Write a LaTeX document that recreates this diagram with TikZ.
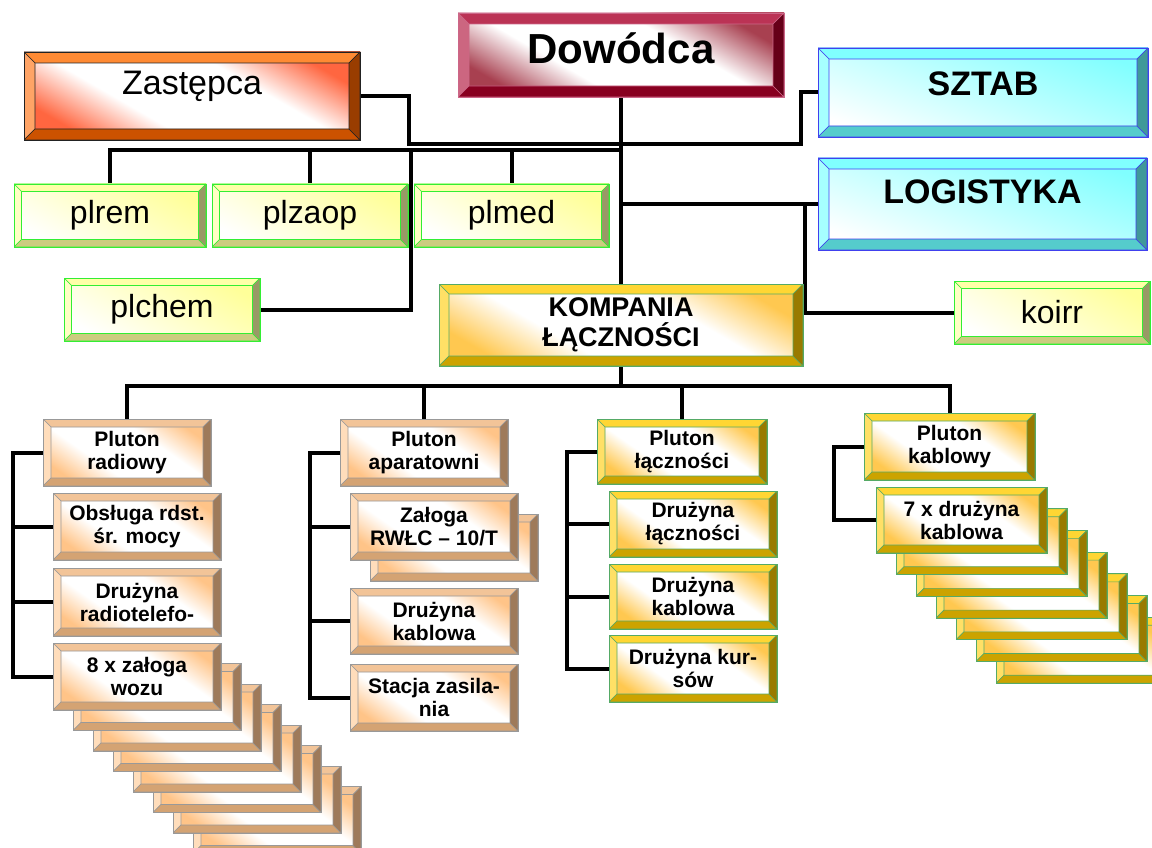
\documentclass[tikz,border=0pt]{standalone}
\usepackage{fontspec}
\setmainfont{Liberation Sans}
\usetikzlibrary{calc}
\pgfdeclarelayer{bg}
\pgfdeclarelayer{wires}
\pgfsetlayers{bg,wires,main}

\definecolor{zasT}{HTML}{FF8A33}
\definecolor{zasL}{HTML}{FFA466}
\definecolor{zasB}{HTML}{CC5200}
\definecolor{zasR}{HTML}{993D00}
\definecolor{zasF}{HTML}{FF6640}
\definecolor{zasO}{HTML}{222222}
\definecolor{dowT}{HTML}{BB3355}
\definecolor{dowL}{HTML}{CC6680}
\definecolor{dowB}{HTML}{880020}
\definecolor{dowR}{HTML}{660018}
\definecolor{dowF}{HTML}{A84050}
\definecolor{dowO}{HTML}{CC6688}
\definecolor{sztT}{HTML}{80FFFF}
\definecolor{sztL}{HTML}{A6FFFF}
\definecolor{sztB}{HTML}{55CCCC}
\definecolor{sztR}{HTML}{409999}
\definecolor{sztF}{HTML}{80FFFF}
\definecolor{sztO}{HTML}{4040EE}
\definecolor{grnT}{HTML}{FFFFA8}
\definecolor{grnL}{HTML}{FFFFC4}
\definecolor{grnB}{HTML}{CCCC80}
\definecolor{grnR}{HTML}{999966}
\definecolor{grnF}{HTML}{FFFF99}
\definecolor{grnO}{HTML}{33EE33}
\definecolor{gldT}{HTML}{FFD633}
\definecolor{gldL}{HTML}{FFE066}
\definecolor{gldB}{HTML}{CCA300}
\definecolor{gldR}{HTML}{997A00}
\definecolor{gldF}{HTML}{FFC850}
\definecolor{gldO}{HTML}{55AA66}
\definecolor{pchT}{HTML}{F2C498}
\definecolor{pchL}{HTML}{FFDDBB}
\definecolor{pchB}{HTML}{D4A373}
\definecolor{pchR}{HTML}{9E7A5A}
\definecolor{pchF}{HTML}{FFC488}
\definecolor{pchO}{HTML}{999999}

\colorlet{bvF}{white}
\pgfdeclareverticalshading[bvF]{bvdiag}{100bp}{color(0bp)=(bvF); color(25bp)=(bvF); color(39bp)=(white); color(61bp)=(white); color(75bp)=(bvF); color(100bp)=(bvF)}

\tikzset{
  box/.style={rectangle, inner sep=0pt, outer sep=0pt, line width=0.8pt},
  bvshade/.style 2 args={/utils/exec={\colorlet{bvF}{#1}}, shading=bvdiag, shading angle=#2},
  bvedge/.style={draw=#1O, line width=0.6pt, line join=round},
  bevel/.style n args={2}{path picture={
    \coordinate (o1) at (path picture bounding box.north west);
    \coordinate (o2) at (path picture bounding box.north east);
    \coordinate (o3) at (path picture bounding box.south east);
    \coordinate (o4) at (path picture bounding box.south west);
    \coordinate (i1) at ([shift={(#2,-#2)}]o1);
    \coordinate (i2) at ([shift={(-#2,-#2)}]o2);
    \coordinate (i3) at ([shift={(-#2,#2)}]o3);
    \coordinate (i4) at ([shift={(#2,#2)}]o4);
    \filldraw[bvedge=#1, fill=#1T] (o1)--(o2)--(i2)--(i1)--cycle;
    \filldraw[bvedge=#1, fill=#1L] (o1)--(i1)--(i4)--(o4)--cycle;
    \filldraw[bvedge=#1, fill=#1B] (o4)--(i4)--(i3)--(o3)--cycle;
    \filldraw[bvedge=#1, fill=#1R] (o3)--(i3)--(i2)--(o2)--cycle;
  }},
  zas/.style={box, draw=zasO, bvshade={zasF}{-30}, bevel={zas}{11pt}},
  dow/.style={box, draw=dowO, bvshade={dowF}{-30}, bevel={dow}{11pt}},
  szt/.style={box, draw=sztO, top color=sztF, bottom color=white, shading angle=-20, bevel={szt}{11pt}},
  grn/.style={box, draw=grnO, top color=grnF, bottom color=white, shading angle=-30, bevel={grn}{7.5pt}},
  gldbig/.style={box, draw=gldO, bvshade={gldF}{-30}, bevel={gld}{10pt}},
  gld/.style={box, draw=gldO, bvshade={gldF}{-35}, bevel={gld}{8pt}},
  pch/.style={box, draw=pchO, bvshade={pchF}{-35}, bevel={pch}{8pt}},
  tZas/.style={font=\fontsize{34}{40}\selectfont},
  tDow/.style={font=\fontsize{42}{48}\selectfont\bfseries},
  tSzt/.style={font=\fontsize{34}{40}\selectfont\bfseries},
  tGrn/.style={font=\fontsize{32}{38}\selectfont},
  tKom/.style={font=\fontsize{27}{30}\selectfont\bfseries, align=center},
  tSm/.style={font=\fontsize{21}{23}\selectfont\bfseries, align=center},
  wire/.style={draw=black, line width=4pt},
}

\newcommand\bevbox[9]{%
  \node[#2, minimum width={((#6)-(#4))*1pt}, minimum height={((#7)-(#5))*1pt},
    label={[name=#1-t,#3,yshift=#8pt]center:{#9}}] (#1) at ({((#4)+(#6))/2},{((#5)+(#7))/2}) {};}

\begin{document}
\begin{tikzpicture}[x=1pt,y=-1pt]
\begin{pgfonlayer}{bg}
\fill[white] (0,0) rectangle (1152,848);
\end{pgfonlayer}
\useasboundingbox (0,0) rectangle (1152,848);

% top level
\bevbox{zast}{zas}{tZas}{24}{52}{360}{140}{10}{Zastępca}
\bevbox{dow}{dow}{tDow}{458}{13}{784}{97}{7}{Dowódca}
\bevbox{sztab}{szt}{tSzt}{818}{48}{1148}{137}{9}{SZTAB}
\bevbox{logi}{szt}{tSzt}{818}{158}{1147}{250}{12}{LOGISTYKA}
\bevbox{plrem}{grn}{tGrn}{14}{184}{206}{247}{0}{plrem}
\bevbox{plzaop}{grn}{tGrn}{212}{184}{408}{247}{0}{plzaop}
\bevbox{plmed}{grn}{tGrn}{414}{184}{609}{247}{0}{plmed}
\bevbox{plchem}{grn}{tGrn}{64}{278}{260}{341}{0}{plchem}
\bevbox{koirr}{grn}{tGrn}{954}{281}{1150}{344}{0}{koirr}
\bevbox{komp}{gldbig}{tKom}{439}{284}{803}{366}{0}{KOMPANIA\\ŁĄCZNOŚCI}

% pluton radiowy
\bevbox{prad}{pch}{tSm}{43}{419}{211}{486}{0}{Pluton\\radiowy}
\bevbox{obs}{pch}{tSm}{53}{493}{221}{560}{0}{Obsługa rdst.\\śr. mocy}
\bevbox{drt}{pch}{tSm}{53}{568}{221}{636}{0}{Drużyna\\radiotelefo-}
\bevbox{zw7}{pch}{tSm}{193}{786.5}{361}{853.5}{0}{}
\bevbox{zw6}{pch}{tSm}{173}{766}{341}{833}{0}{}
\bevbox{zw5}{pch}{tSm}{153}{745.5}{321}{812.5}{0}{}
\bevbox{zw4}{pch}{tSm}{133}{725}{301}{792}{0}{}
\bevbox{zw3}{pch}{tSm}{113}{704.5}{281}{771.5}{0}{}
\bevbox{zw2}{pch}{tSm}{93}{684}{261}{751}{0}{}
\bevbox{zw1}{pch}{tSm}{73}{663.5}{241}{730.5}{0}{}
\bevbox{zal8}{pch}{tSm}{53}{643}{221}{710}{0}{8 x załoga\\wozu}

% pluton aparatowni
\bevbox{papa}{pch}{tSm}{340}{419}{508}{486}{0}{Pluton\\aparatowni}
\bevbox{rwlcb}{pch}{tSm}{370}{514}{538}{581}{0}{}
\bevbox{rwlc}{pch}{tSm}{350}{493}{518}{560}{0}{Załoga\\RWŁC – 10/T}
\bevbox{dkab}{pch}{tSm}{350}{588}{518}{654}{0}{Drużyna\\kablowa}
\bevbox{stz}{pch}{tSm}{350}{664}{518}{731}{0}{Stacja zasila-\\nia}

% pluton lacznosci
\bevbox{plac}{gld}{tSm}{597}{419}{767}{484}{0}{Pluton\\łączności}
\bevbox{dlac}{gld}{tSm}{609}{491}{777}{557}{0}{Drużyna\\łączności}
\bevbox{dkab2}{gld}{tSm}{609}{564}{777}{629}{0}{Drużyna\\kablowa}
\bevbox{dkur}{gld}{tSm}{609}{635}{777}{702}{0}{Drużyna kur-\\sów}

% pluton kablowy
\bevbox{pkab}{gld}{tSm}{864}{413}{1035}{480}{0}{Pluton\\kablowy}
\bevbox{dk6}{gld}{tSm}{996}{617.2}{1167}{683.2}{0}{}
\bevbox{dk5}{gld}{tSm}{976}{595.5}{1147}{661.5}{0}{}
\bevbox{dk4}{gld}{tSm}{956}{573.8}{1127}{639.8}{0}{}
\bevbox{dk3}{gld}{tSm}{936}{552.1}{1107}{618.1}{0}{}
\bevbox{dk2}{gld}{tSm}{916}{530.4}{1087}{596.4}{0}{}
\bevbox{dk1}{gld}{tSm}{896}{508.7}{1067}{574.7}{0}{}
\bevbox{d7}{gld}{tSm}{876}{487}{1047}{553}{0}{7 x drużyna\\kablowa}

\begin{pgfonlayer}{wires}
\coordinate (j1) at (409,144);
\coordinate (j2) at (801,144);
\coordinate (hub1) at (621,150);
\coordinate (hub2) at (411,150);
\coordinate (j3) at ($(logi.west)+(-13,0)$);
\coordinate (bus) at (621,386);
\coordinate (b1) at (13,676.5);
\coordinate (b2) at (310,697.5);
\coordinate (b3) at (567,668.5);
\coordinate (b4) at (834,520);

\draw[wire] (zast.east) -| (j1) -- (j2) |- (sztab.west);
\draw[wire] (dow.south) -- (dow.south |- komp.north);
\draw[wire] (plrem.north) |- (hub1);
\draw[wire] (plzaop.north) -- (plzaop.north |- hub1);
\draw[wire] (plmed.north) -- (plmed.north |- hub1);
\draw[wire] (plchem.east) -| (hub2);
\draw[wire] (dow.south |- logi.west) -- (logi.west);
\draw[wire] (j3) |- (koirr.west);

\draw[wire] (komp.south) -- (komp.south |- bus);
\draw[wire] (prad.north) |- (pkab.north |- bus) -- (pkab.north);
\draw[wire] (papa.north) -- (papa.north |- bus);
\draw[wire] (plac.north) -- (plac.north |- bus);

\draw[wire] (prad.west) -| (b1) -- (zal8.west);
\draw[wire] (b1 |- obs.west) -- (obs.west);
\draw[wire] (b1 |- drt.west) -- (drt.west);

\draw[wire] (papa.west) -| (b2) -- (stz.west);
\draw[wire] (b2 |- rwlc.west) -- (rwlc.west);
\draw[wire] (b2 |- dkab.west) -- (dkab.west);

\draw[wire] (plac.west) -| (b3) -- (dkur.west);
\draw[wire] (b3 |- dlac.west) -- (dlac.west);
\draw[wire] (b3 |- dkab2.west) -- (dkab2.west);

\draw[wire] (pkab.west) -| (b4) -- (d7.west);
\end{pgfonlayer}
\end{tikzpicture}
\end{document}
